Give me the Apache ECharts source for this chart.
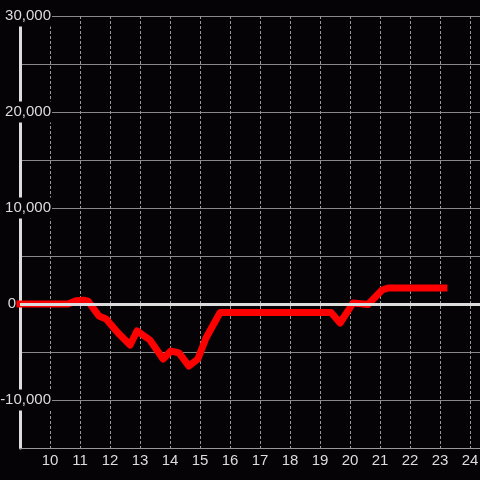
<!DOCTYPE html>
<html>
<head>
    <meta charset="UTF-8">
    <title>Line</title>
    <script type="text/javascript" src="https://cdn.jsdelivr.net/npm/echarts@6.0.0/dist/echarts.min.js"></script>
</head>
<body style="margin: 0;overflow: hidden;background: #050305;">
<div id="chart" style="width: 480px;height: 480px;"></div>
<script type="text/javascript">
    // hour of day -> value
    var hours = [9, 10.6, 10.87, 11.13, 11.27, 11.63, 11.87, 12.27, 12.67, 12.9, 13.33, 13.77, 14.03, 14.3,
        14.63, 14.93, 15.2, 15.67, 19.37, 19.67, 20.1, 20.6, 21.07, 21.27, 23.13];
    var values = [0, 0, 350, 400, 300, -1250, -1560, -3020, -4270, -2810, -3750, -5730, -4900, -5100,
        -6460, -5730, -3540, -880, -880, -1980, 100, -50, 1460, 1670, 1670];
    var xTicks = [9, 25, 1];          // min, max, step
    var yTicks = [-15000, 30000, 5000];

    var points = hours.map(function (h, i) {
        return [h, values[i]];
    });

    function fmt(v) {
        return String(v).replace(/\B(?=(\d{3})+(?!\d))/g, ',');
    }

    var textColor = '#dddddd';
    var font = "'Liberation Sans', Arial, sans-serif";
    var fs = 15;

    var chart = echarts.init(document.getElementById('chart'));
    var option = {
        backgroundColor: '#050305',
        animation: false,
        grid: {
            left: 20,
            right: -20,
            top: 16,
            bottom: 32,
            containLabel: false,
            outerBoundsMode: 'none'
        },
        xAxis: {
            type: 'value',
            min: xTicks[0],
            max: xTicks[1],
            interval: xTicks[2],
            axisLine: {show: true, onZero: false, lineStyle: {color: '#999999', width: 1}},
            axisTick: {show: false},
            axisLabel: {
                showMinLabel: false,
                color: textColor,
                fontSize: fs,
                fontFamily: font,
                margin: 5
            },
            splitLine: {
                show: true,
                lineStyle: {color: '#999999', width: 1, type: [3, 2]}
            }
        },
        yAxis: {
            type: 'value',
            min: yTicks[0],
            max: yTicks[1],
            interval: yTicks[2],
            axisLine: {show: true, lineStyle: {color: '#dddddd', width: 3}},
            axisTick: {show: false},
            axisLabel: {
                align: 'right',
                margin: -32,
                color: textColor,
                fontSize: fs,
                fontFamily: font,
                formatter: function (v) {
                    if (v % 10000 !== 0) {
                        return '';
                    }
                    if (v === 0) {
                        return '{z|0}{sp| }';
                    }
                    return '{v|' + fmt(v) + '}';
                },
                rich: {
                    v: {
                        color: textColor, fontSize: fs, fontFamily: font,
                        backgroundColor: '#050305', padding: [3, 1]
                    },
                    z: {color: textColor, fontSize: fs, fontFamily: font},
                    sp: {width: 36, fontSize: fs}
                }
            },
            splitLine: {
                show: true,
                lineStyle: {color: '#888888', width: 1}
            }
        },
        series: [
            {
                // zero line
                type: 'line',
                data: [],
                z: 1,
                markLine: {
                    silent: true,
                    symbol: ['none', 'none'],
                    label: {show: false},
                    lineStyle: {color: '#dddddd', width: 3, type: 'solid'},
                    data: [{yAxis: 0}]
                }
            },
            {
                type: 'line',
                data: points,
                z: 3,
                clip: false,
                showSymbol: false,
                lineStyle: {color: '#ff0000', width: 7, cap: 'square', join: 'round'}
            }
        ]
    };
    chart.setOption(option);
</script>
</body>
</html>
